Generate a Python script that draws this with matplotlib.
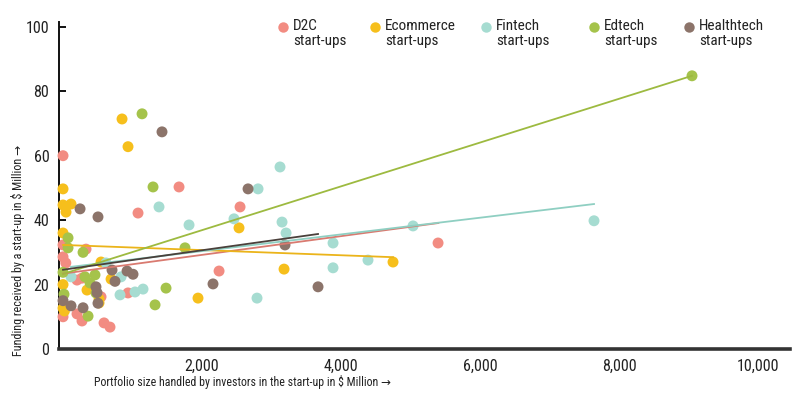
import matplotlib
matplotlib.use("Agg")
import matplotlib.pyplot as plt
from matplotlib import font_manager as fm
from matplotlib.lines import Line2D

# ---------------- data ----------------
d2c_x = [0, 1669, 1079, 2547, 2245, 935, 547, 0, 0, 40, 331, 201, 273, 0, 201, 273, 590, 676, 5396]
d2c_y = [60, 50.3, 42.2, 44.1, 24.2, 17.4, 16.2, 32.3, 28.6, 26.7, 31, 21.4, 22, 10, 10.9, 8.7, 8.1, 6.8, 32.9]

ecom_x = [849, 935, 0, 0, 115, 43, 0, 2532, 547, 691, 0, 345, 518, 1942, 3180, 4748, 0, 20, 518]
ecom_y = [71.4, 62.8, 49.7, 44.7, 45, 42.5, 36, 37.6, 27, 21.7, 20, 18.3, 15.5, 15.8, 24.8, 27, 12.7, 11.8, 14.3]

fin_x = [1381, 1813, 2460, 2806, 3122, 3151, 3209, 3885, 3885, 4388, 2791, 619, 115, 835, 820, 1036, 1151, 5036, 7640]
fin_y = [44.1, 38.5, 40.4, 49.7, 56.5, 39.4, 36, 32.9, 25.2, 27.6, 15.8, 26.7, 22.4, 22.4, 16.8, 17.7, 18.6, 38.2, 39.8]

ed_x = [1137, 1295, 1755, 1482, 1324, 72, 72, 288, 0, 14, 360, 460, 316, 388, 474, 9050]
ed_y = [73, 50.3, 31.4, 18.9, 13.7, 34.5, 31.4, 30, 23.8, 17, 10.2, 23, 22.4, 20.5, 17.4, 84.8]

hl_x = [1424, 2662, 245, 503, 3194, 2158, 3669, 705, 921, 1007, 748, 474, 503, 115, 288, 0, 489]
hl_y = [67.4, 49.7, 43.5, 41, 32.3, 20.2, 19.3, 24.5, 24.2, 23.2, 21, 19.3, 14.2, 13.4, 12.8, 15, 17.5]

# trend lines: (x start, x end), (y start, y end)
d2c_trend_x, d2c_trend_y = [0, 5400], [23.4, 39.1]
ecom_trend_x, ecom_trend_y = [0, 4748], [32.3, 28.5]
fin_trend_x, fin_trend_y = [115, 7640], [25.5, 45.0]
ed_trend_x, ed_trend_y = [0, 9050], [23.3, 84.8]
hl_trend_x, hl_trend_y = [0, 3669], [24.6, 35.7]

labels = ["D2C\nstart-ups", "Ecommerce\nstart-ups", "Fintech\nstart-ups", "Edtech\nstart-ups", "Healthtech\nstart-ups"]
y_ticks = [0, 20, 40, 60, 80, 100]
x_ticks = [2000, 4000, 6000, 8000, 10000]
x_ticklabels = ["2,000", "4,000", "6,000", "8,000", "10,000"]

# ---------------- font selection ----------------
def pick_font():
    prefs = ["Liberation Sans Narrow", "Roboto Condensed", "Open Sans Condensed", "Noto Sans Condensed",
             "Arial Narrow", "DejaVu Sans Condensed"]
    names = {f.name for f in fm.fontManager.ttflist}
    for p in prefs:
        if p in names:
            return p, "normal", True
    for f in fm.fontManager.ttflist:
        st = str(f.stretch)
        if ("condensed" in st or st in ("75", "62.5", "87.5")) and f.style == "normal" and f.weight in (400, "normal", "regular"):
            return f.name, st, True
    return "DejaVu Sans", "normal", False

font, stretch, condensed = pick_font()
plt.rcParams["font.family"] = [font, "DejaVu Sans"]
plt.rcParams["font.stretch"] = stretch
k = 1.0 if condensed else 0.82

dot_colors = ["#F28C82", "#F6BF1C", "#A6DCD1", "#A5C34B", "#8C746A"]
line_colors = ["#D97A70", "#EBB41A", "#8FCFC2", "#9DBA40", "#4A403B"]

fig = plt.figure(figsize=(8.01, 3.98), dpi=100)
ax = fig.add_axes([59 / 801, (398 - 349) / 398, (790 - 59) / 801, (349 - 22) / 398])

series = [(d2c_x, d2c_y), (ecom_x, ecom_y), (fin_x, fin_y), (ed_x, ed_y), (hl_x, hl_y)]
trends = [(d2c_trend_x, d2c_trend_y), (ecom_trend_x, ecom_trend_y), (fin_trend_x, fin_trend_y),
          (ed_trend_x, ed_trend_y), (hl_trend_x, hl_trend_y)]

for (xs, ys), c in zip(series, dot_colors):
    ax.scatter(xs, ys, s=62, color=c, edgecolors="none", zorder=3, clip_on=False)
for (tx, ty), c in zip(trends, line_colors):
    ax.plot(tx, ty, color=c, lw=1.3, zorder=4)

ax.set_xlim(-58, 10460)
ax.set_ylim(0, 101.5)
for s in ["top", "right"]:
    ax.spines[s].set_visible(False)
ax.spines["left"].set_linewidth(1.4)
ax.spines["left"].set_color("#111111")
ax.spines["bottom"].set_linewidth(2.6)
ax.spines["bottom"].set_color("#333333")
ax.spines["bottom"].set_zorder(5)

ax.set_yticks(y_ticks)
ax.set_yticklabels([str(v) for v in y_ticks])
ax.set_xticks(x_ticks)
ax.set_xticklabels(x_ticklabels)
ax.tick_params(axis="y", direction="in", length=5, width=1.4, color="#111111", labelsize=11.5 * k, pad=7,
               labelcolor="#222222")
ax.tick_params(axis="x", length=0, labelsize=11.5 * k, pad=7, labelcolor="#222222")

fig.text(18 / 801, (398 - 356) / 398, "Funding received by a start-up in $ Million \u2192", rotation=90,
         ha="center", va="bottom", fontsize=8.7 * k, color="#222222")
fig.text(94 / 801, (398 - 382) / 398, "Portfolio size handled by investors in the start-up in $ Million \u2192",
         ha="left", va="center", fontsize=8.6 * k, color="#222222")

# legend (manual)
leg_marker_x = [283, 375, 486, 594, 689]
for lx, lab, c in zip(leg_marker_x, labels, dot_colors):
    fig.add_artist(Line2D([lx / 801], [(398 - 27) / 398], marker="o", markersize=7.5, color=c,
                          markeredgewidth=0, linestyle="none", transform=fig.transFigure))
    fig.text((lx + 10) / 801, (398 - 19) / 398, lab, ha="left", va="top", fontsize=11 * k,
             color="#222222", linespacing=1.1)

fig.savefig("out.png", dpi=100, facecolor="white")
